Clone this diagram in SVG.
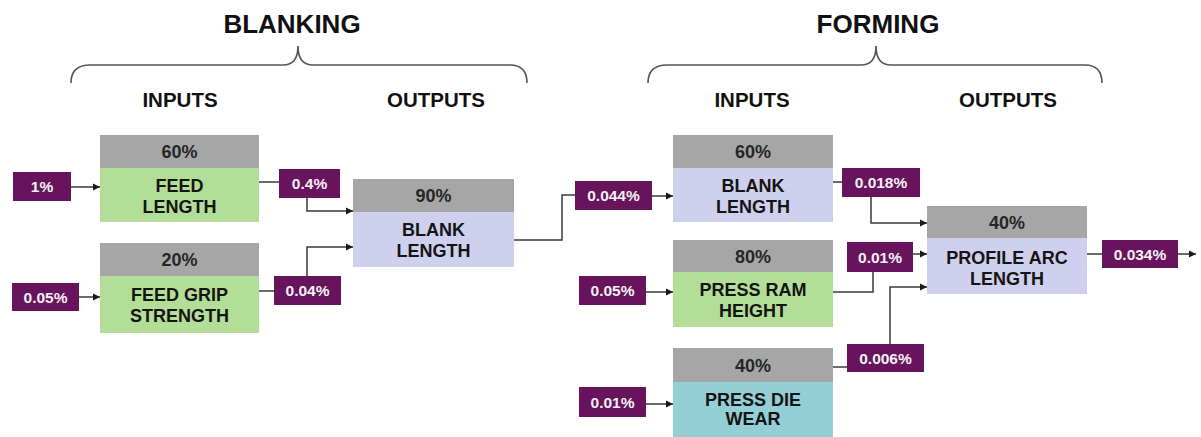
<svg xmlns="http://www.w3.org/2000/svg" width="1201" height="437" viewBox="0 0 1201 437">
<style>
text{font-family:"Liberation Sans",Arial,sans-serif;font-weight:bold;text-anchor:middle}
.title{font-size:26px;fill:#111}
.sub{font-size:20.5px;fill:#111}
.hdr{fill:#A6A6A6}
.green{fill:#B3DE97}
.lav{fill:#CFCFEE}
.teal{fill:#95CFD6}
.ht{font-size:18px;fill:#262626}
.nt{font-size:18px;fill:#141414}
.val rect{fill:#68145C}
.val text{font-size:15.5px;fill:#F4F0F4}
.brace{fill:none;stroke:#555;stroke-width:1.6}
.conn path{fill:none;stroke:#3a3a3a;stroke-width:1.5}
.arr{marker-end:url(#ah)}
</style>
<defs>
<marker id="ah" markerUnits="userSpaceOnUse" markerWidth="8" markerHeight="8" refX="7" refY="4" orient="auto">
<path d="M0,0.5 L7,4 L0,7.5 Z" fill="#1a1a1a"/>
</marker>
</defs>

<g id="headings">
<text class="title" x="292" y="33">BLANKING</text>
<text class="title" x="878" y="33">FORMING</text>
<path class="brace" d="M71,83 C71,72 76,65 90,65 L283,65 C293,65 298,58 298,46 C298,58 303,65 313,65 L510,65 C522,65 527,72 527,83"/>
<path class="brace" d="M648,83 C648,72 653,65 667,65 L861,65 C871,65 876,58 876,46 C876,58 881,65 891,65 L1085,65 C1097,65 1102,72 1102,83"/>
<text class="sub" x="180" y="107">INPUTS</text>
<text class="sub" x="436" y="107">OUTPUTS</text>
<text class="sub" x="752" y="107">INPUTS</text>
<text class="sub" x="1008" y="107">OUTPUTS</text>
</g>

<g id="feed-length">
<rect class="hdr" x="100" y="135" width="159" height="33"/>
<rect class="green" x="100" y="168" width="159" height="54"/>
<text class="ht" x="179.5" y="158">60%</text>
<text class="nt" x="179.5" y="191.5">FEED</text>
<text class="nt" x="179.5" y="212.5">LENGTH</text>
</g>

<g id="feed-grip-strength">
<rect class="hdr" x="100" y="243" width="159" height="33"/>
<rect class="green" x="100" y="276" width="159" height="57"/>
<text class="ht" x="179.5" y="266">20%</text>
<text class="nt" x="179.5" y="300.5">FEED GRIP</text>
<text class="nt" x="179.5" y="321.5">STRENGTH</text>
</g>

<g id="blank-length-blanking">
<rect class="hdr" x="353" y="179" width="161" height="33"/>
<rect class="lav" x="353" y="212" width="161" height="55"/>
<text class="ht" x="433.5" y="202">90%</text>
<text class="nt" x="433.5" y="235.5">BLANK</text>
<text class="nt" x="433.5" y="256.5">LENGTH</text>
</g>

<g id="blank-length-forming">
<rect class="hdr" x="673" y="135" width="160" height="33"/>
<rect class="lav" x="673" y="168" width="160" height="54"/>
<text class="ht" x="753" y="158">60%</text>
<text class="nt" x="753" y="191.5">BLANK</text>
<text class="nt" x="753" y="212.5">LENGTH</text>
</g>

<g id="press-ram-height">
<rect class="hdr" x="673" y="240" width="160" height="32"/>
<rect class="green" x="673" y="272" width="160" height="55"/>
<text class="ht" x="753" y="262.5">80%</text>
<text class="nt" x="753" y="295.5">PRESS RAM</text>
<text class="nt" x="753" y="316.5">HEIGHT</text>
</g>

<g id="press-die-wear">
<rect class="hdr" x="673" y="348" width="160" height="34"/>
<rect class="teal" x="673" y="382" width="160" height="55"/>
<text class="ht" x="753" y="371.5">40%</text>
<text class="nt" x="753" y="405.5">PRESS DIE</text>
<text class="nt" x="753" y="425">WEAR</text>
</g>

<g id="profile-arc-length">
<rect class="hdr" x="927" y="206" width="160" height="32"/>
<rect class="lav" x="927" y="238" width="160" height="56"/>
<text class="ht" x="1007" y="228.5">40%</text>
<text class="nt" x="1007" y="263.5">PROFILE ARC</text>
<text class="nt" x="1007" y="284.5">LENGTH</text>
</g>

<g id="v-1" class="val"><rect x="13" y="172" width="58" height="29"/><text x="42" y="192">1%</text></g>
<g id="v-005a" class="val"><rect x="12" y="283" width="67" height="28"/><text x="45.5" y="302.5">0.05%</text></g>
<g id="v-04" class="val"><rect x="279" y="169" width="61" height="29"/><text x="309.5" y="189">0.4%</text></g>
<g id="v-004" class="val"><rect x="274" y="276" width="67" height="29"/><text x="307.5" y="296">0.04%</text></g>
<g id="v-0044" class="val"><rect x="575" y="181" width="77" height="29"/><text x="613.5" y="201">0.044%</text></g>
<g id="v-0018" class="val"><rect x="842" y="168" width="78" height="29"/><text x="881" y="188">0.018%</text></g>
<g id="v-005b" class="val"><rect x="579" y="276" width="67" height="29"/><text x="612.5" y="296">0.05%</text></g>
<g id="v-001a" class="val"><rect x="847" y="242" width="66" height="30"/><text x="880" y="262.5">0.01%</text></g>
<g id="v-0006" class="val"><rect x="847" y="344" width="77" height="28"/><text x="885.5" y="363.5">0.006%</text></g>
<g id="v-001b" class="val"><rect x="579" y="387" width="67" height="30"/><text x="612.5" y="407.5">0.01%</text></g>
<g id="v-0034" class="val"><rect x="1102" y="240" width="76" height="28"/><text x="1140" y="259.5">0.034%</text></g>

<g id="connectors" class="conn">
<path class="arr" d="M71,187 L100,187"/>
<path class="arr" d="M79,297 L100,297"/>
<path d="M259,182 L279,182"/>
<path class="arr" d="M307,198 L307,211 L353,211"/>
<path d="M259,291 L274,291"/>
<path class="arr" d="M307,276 L307,247 L353,247"/>
<path d="M514,240 L562,240 L562,195 L575,195"/>
<path class="arr" d="M652,196 L673,196"/>
<path class="arr" d="M646,292 L673,292"/>
<path class="arr" d="M646,404 L673,404"/>
<path d="M833,182 L842,182"/>
<path class="arr" d="M871,197 L871,223 L927,223"/>
<path d="M833,292 L873,292 L873,272"/>
<path class="arr" d="M913,254 L927,254"/>
<path d="M833,367 L847,367"/>
<path class="arr" d="M890,344 L890,287 L927,287"/>
<path d="M1087,254 L1102,254"/>
<path class="arr" d="M1178,254 L1196,254"/>
</g>
</svg>
